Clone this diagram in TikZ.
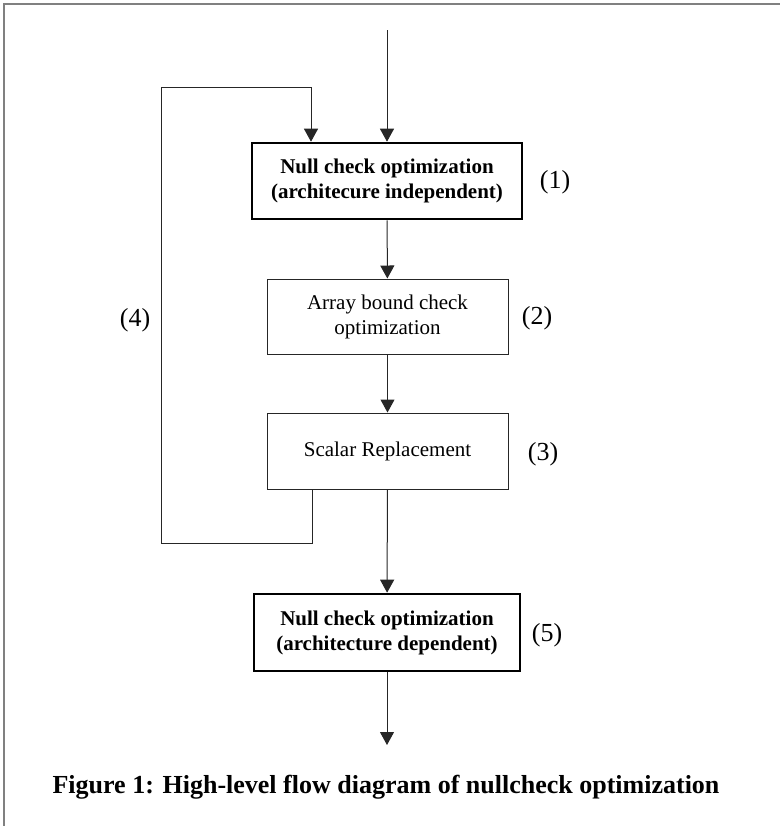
\documentclass[tikz,border=0pt]{standalone}
\usepackage{fontspec}
\setmainfont{Liberation Serif}
\usetikzlibrary{arrows.meta}

\tikzset{
  pass/.style={draw=black!85,line width=0.5pt,align=center,inner sep=0pt,
    font=\fontsize{10.5}{12.5}\selectfont},
  nullpass/.style={pass,draw=black,line width=1.3pt,font=\fontsize{10.5}{12.5}\selectfont\bfseries},
  tag/.style={font=\fontsize{13}{15}\selectfont},
  flow/.style={->,draw=black!85,line width=0.5pt}
}

\begin{document}
\begin{tikzpicture}[>={Triangle[length=6.5pt,width=7pt]},x=0.5pt,y=-0.5pt]
    \useasboundingbox (0,0) rectangle (780,826);
    % frame
    \draw[black!50,line width=0.6pt] (4,826) -- (4,4) -- (780,4);
    % passes
    \node[nullpass,minimum width=135pt,minimum height=38pt] (b1) at (387,181)
      {Null check optimization\\(architecure independent)};
    \node[pass,minimum width=120.5pt,minimum height=37.5pt] (b2) at (387.5,316.5)
      {Array bound check\\optimization};
    \node[pass,minimum width=120.5pt,minimum height=38pt] (b3) at (387.5,451)
      {Scalar Replacement};
    \node[nullpass,minimum width=133pt,minimum height=38.5pt] (b5) at (387,632.5)
      {Null check optimization\\(architecture dependent)};
    % numbers
    \node[tag] (l1) at (555,182) {(1)};
    \node[tag] (l2) at (537,318) {(2)};
    \node[tag] (l3) at (543,454) {(3)};
    \node[tag] (l4) at (135,320) {(4)};
    \node[tag] (l5) at (547,635) {(5)};
    % flow
    \coordinate (entry) at (387,30);
    \coordinate (exit) at (387,745);
    \draw[flow] (entry) -- (b1);
    \draw[flow] (b1) -- (b2);
    \draw[flow] (b2) -- (b3);
    \draw[flow] (b3) -- (b5);
    \draw[flow] (b5) -- (exit);
    % loop back
    \coordinate (loopdown) at (312,543);
    \coordinate (loopleft) at (161,543);
    \coordinate (looptop) at (161,87);
    \coordinate (loopin) at (311,87);
    \draw[flow] (b3.south -| loopdown) -- (loopdown) -- (loopleft) -- (looptop)
      -- (loopin) -- (b1.north -| loopin);
    % caption
    \node[font=\fontsize{13}{15}\selectfont\bfseries] (cap) at (386,787)
      {Figure 1: High-level flow diagram of nullcheck optimization};
\end{tikzpicture}
\end{document}
